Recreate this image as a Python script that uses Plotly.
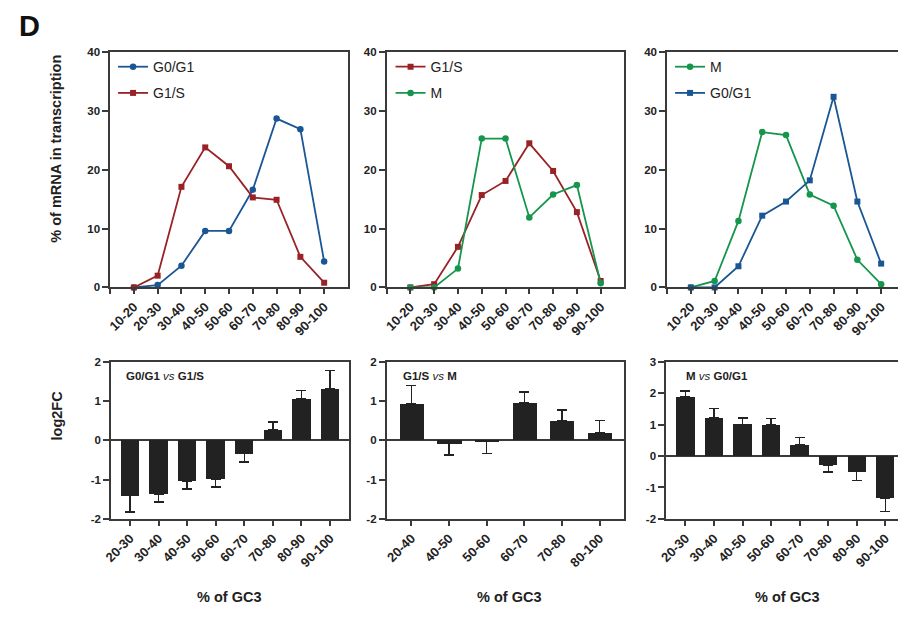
import plotly.graph_objects as go

# ---------------- data ----------------
gc_top = ['10-20', '20-30', '30-40', '40-50', '50-60', '60-70', '70-80', '80-90', '90-100']
p1_g0g1 = [0, 0.4, 3.7, 9.6, 9.6, 16.6, 28.7, 26.9, 4.4]
p1_g1s = [0, 2.0, 17.1, 23.8, 20.6, 15.3, 14.9, 5.2, 0.8]
p2_g1s = [0, 0.55, 6.9, 15.7, 18.1, 24.5, 19.8, 12.8, 1.1]
p2_m = [0, 0, 3.2, 25.3, 25.3, 11.9, 15.8, 17.4, 0.7]
p3_m = [0, 1.1, 11.3, 26.4, 25.9, 15.8, 13.9, 4.7, 0.55]
p3_g0g1 = [0, 0, 3.6, 12.2, 14.6, 18.2, 32.4, 14.6, 4.05]

gc_b1 = ['20-30', '30-40', '40-50', '50-60', '60-70', '70-80', '80-90', '90-100']
fc1 = [-1.41, -1.37, -1.04, -0.98, -0.34, 0.27, 1.06, 1.31]
err1 = [0.42, 0.20, 0.20, 0.21, 0.21, 0.20, 0.21, 0.47]
gc_b2 = ['20-40', '40-50', '50-60', '60-70', '70-80', '80-100']
fc2 = [0.93, -0.08, -0.03, 0.96, 0.49, 0.20]
err2 = [0.47, 0.29, 0.30, 0.27, 0.29, 0.31]
gc_b3 = ['20-30', '30-40', '40-50', '50-60', '60-70', '70-80', '80-90', '90-100']
fc3 = [1.90, 1.22, 1.01, 1.00, 0.35, -0.29, -0.50, -1.33]
err3 = [0.18, 0.29, 0.21, 0.20, 0.24, 0.22, 0.28, 0.44]

top_yticks = [0, 10, 20, 30, 40]
fc_yticks_12 = [-2, -1, 0, 1, 2]
fc_yticks_3 = [-2, -1, 0, 1, 2, 3]

# ---------------- style ----------------
W, H = 898, 619
FONT = 'Liberation Sans, Arial, Helvetica, sans-serif'
BLUE = '#1b5694'
RED = '#992226'
GREEN = '#16954c'
AX = '#3a3a3a'
BAR = '#222222'


def px(x):
    return x / W


def py(y):
    return 1 - y / H


fig = go.Figure()


def line_trace(vals, name, color, symbol, xa, ya, leg, grp):
    fig.add_trace(go.Scatter(
        x=list(range(len(vals))), y=vals, name=name, mode='lines+markers',
        line=dict(color=color, width=1.8),
        marker=dict(color=color, size=6 if symbol == 'square' else 6.5, symbol=symbol),
        xaxis=xa, yaxis=ya, legend=leg, legendgroup=grp, cliponaxis=False))


line_trace(p1_g0g1, 'G0/G1', BLUE, 'circle', 'x', 'y', 'legend', 'a1')
line_trace(p1_g1s, 'G1/S', RED, 'square', 'x', 'y', 'legend', 'a2')
line_trace(p2_g1s, 'G1/S', RED, 'square', 'x2', 'y2', 'legend2', 'b1')
line_trace(p2_m, 'M', GREEN, 'circle', 'x2', 'y2', 'legend2', 'b2')
line_trace(p3_m, 'M', GREEN, 'circle', 'x3', 'y3', 'legend3', 'c1')
line_trace(p3_g0g1, 'G0/G1', BLUE, 'square', 'x3', 'y3', 'legend3', 'c2')


def bar_trace(fc, err, xa, ya):
    up = [e if v >= 0 else 0 for v, e in zip(fc, err)]
    dn = [e if v < 0 else 0 for v, e in zip(fc, err)]
    fig.add_trace(go.Bar(
        x=list(range(len(fc))), y=fc, width=0.64, marker=dict(color=BAR, line=dict(width=0)),
        error_y=dict(type='data', array=up, arrayminus=dn, symmetric=False,
                     color=BAR, thickness=1.4, width=5),
        xaxis=xa, yaxis=ya, showlegend=False))


bar_trace(fc1, err1, 'x4', 'y4')
bar_trace(fc2, err2, 'x5', 'y5')
bar_trace(fc3, err3, 'x6', 'y6')

tickfont_y = dict(family=FONT, size=11.5, color='#222')
tickfont_x = dict(family=FONT, size=13, color='#222')

common_ax = dict(showline=True, linecolor=AX, linewidth=1.5, showgrid=False,
                 zeroline=False, ticks='outside', tickcolor=AX, tickwidth=1.5,
                 fixedrange=True)

top_dom_y = [py(287), py(47)]
bot_dom_y = [py(523), py(363)]

layout = dict(width=W, height=H, margin=dict(l=0, r=0, t=0, b=0), autosize=False,
              plot_bgcolor='white', paper_bgcolor='white', bargap=0,
              font=dict(family=FONT, color='#222'))


def ylab(v):
    return '<b>%d</b>' % v


# top axes
top_x_dom = [[px(103), px(343)], [px(382), px(622)], [px(665), 1.0]]
top_x_rng = [[-1, 9], [-1, 9], [-1, -1 + (W - 665) / 24.0]]
top_tickvals = [-1] + list(range(len(gc_top)))
top_ticktext = [''] + ['<b>%s</b>' % c for c in gc_top]
for i in range(3):
    k = '' if i == 0 else str(i + 1)
    layout['xaxis' + k] = dict(common_ax, domain=top_x_dom[i], range=top_x_rng[i],
                               anchor='y' + k, mirror=True, ticklen=5,
                               tickvals=top_tickvals, ticktext=top_ticktext,
                               tickangle=-45, tickfont=tickfont_x)
    layout['yaxis' + k] = dict(common_ax, domain=top_dom_y, range=[0, 40],
                               tickvals=top_yticks, ticktext=[ylab(v) for v in top_yticks],
                               anchor='x' + k, mirror=(i < 2), ticklen=6,
                               tickfont=tickfont_y)

# bottom axes
bot_x_dom = [[px(104), px(344)], [px(382), px(622)], [px(664), 1.0]]
bot_x_rng = [[-0.66, 7.66], [-0.66, 5.66], [-0.68, -0.68 + (W - 664) / 28.8]]
bot_cats = [gc_b1, gc_b2, gc_b3]
bot_y_rng = [[-2, 2], [-2, 2], [-2, 3]]
bot_yt = [fc_yticks_12, fc_yticks_12, fc_yticks_3]
for i in range(3):
    k = str(i + 4)
    layout['xaxis' + k] = dict(common_ax, domain=bot_x_dom[i], range=bot_x_rng[i],
                               anchor='y' + k, mirror=True, ticklen=5,
                               tickvals=list(range(len(bot_cats[i]))),
                               ticktext=['<b>%s</b>' % c for c in bot_cats[i]],
                               tickangle=-45, tickfont=tickfont_x)
    layout['yaxis' + k] = dict(common_ax, domain=bot_dom_y, range=bot_y_rng[i],
                               tickvals=bot_yt[i], ticktext=[ylab(v) for v in bot_yt[i]],
                               anchor='x' + k, mirror=(i < 2), ticklen=6,
                               zeroline=True, zerolinecolor=AX, zerolinewidth=1.5,
                               tickfont=tickfont_y)

leg_common = dict(bgcolor='rgba(0,0,0,0)', font=dict(family=FONT, size=14, color='#222'),
                  xanchor='left', yanchor='top', tracegroupgap=5, itemwidth=30)
layout['legend'] = dict(leg_common, x=px(106), y=py(46))
layout['legend2'] = dict(leg_common, x=px(386), y=py(46))
layout['legend3'] = dict(leg_common, x=px(668), y=py(46))

ann = []
ann.append(dict(text='<b>D</b>', x=px(9), y=py(20), xref='paper', yref='paper',
                xanchor='left', yanchor='middle', showarrow=False,
                font=dict(family=FONT, size=29, color='#111')))
ann.append(dict(text='<b>% of mRNA in transcription</b>', x=px(49), y=py(146),
                xref='paper', yref='paper', textangle=-90, showarrow=False,
                xanchor='center', yanchor='middle',
                font=dict(family=FONT, size=14.5, color='#222')))
ann.append(dict(text='<b>log2FC</b>', x=px(49), y=py(418),
                xref='paper', yref='paper', textangle=-90, showarrow=False,
                xanchor='center', yanchor='middle',
                font=dict(family=FONT, size=14.5, color='#222')))
for cx in [223, 505, 786]:
    ann.append(dict(text='<b>% of GC3</b>', x=px(cx), y=py(603), xref='paper',
                    yref='paper', showarrow=False, xanchor='center', yanchor='middle',
                    font=dict(family=FONT, size=14.5, color='#222')))
for txt, lx in [('<b>G0/G1</b> <i>vs</i> <b>G1/S</b>', 117),
                ('<b>G1/S</b> <i>vs</i> <b>M</b>', 397),
                ('<b>M</b> <i>vs</i> <b>G0/G1</b>', 682)]:
    ann.append(dict(text=txt, x=px(lx), y=py(377), xref='paper', yref='paper',
                    xanchor='left', yanchor='middle', showarrow=False,
                    font=dict(family=FONT, size=11.5, color='#222')))
layout['annotations'] = ann

fig.update_layout(**layout)
fig.write_html('out.html', config={'displayModeBar': False},
               post_script="document.body.style.margin='0';")
